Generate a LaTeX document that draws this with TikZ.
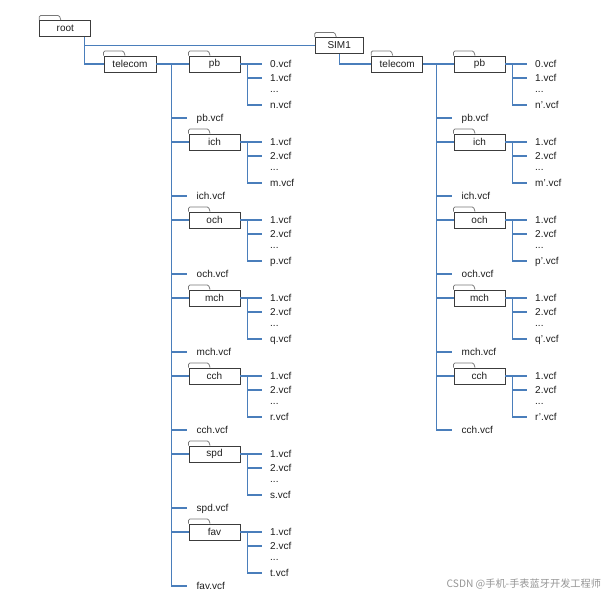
\documentclass[tikz,border=0pt]{standalone}
\usepackage{fontspec}
\setmainfont{Liberation Sans}
\newfontfamily\cjkfont{Noto Sans CJK SC}
\definecolor{lnblue}{RGB}{74,126,187}
\definecolor{boxc}{RGB}{60,60,60}
\definecolor{tabc}{RGB}{120,120,120}
\definecolor{txt}{RGB}{30,30,30}
\definecolor{wmc}{RGB}{150,150,150}
\newcommand{\ftab}[1]{\draw[tabline] (#1.north west) -- ++(0,-4.5) -- ++(20,0) -- ++(1.5,4.5);}
\newcommand{\drawcolumn}[3]{%
\begin{scope}[xshift=#2]
  \coordinate (#1trunk) at (171.5,64);
  \foreach \fo/\fa/\fb/\la [count=\k from 0] in {#3} {
    \pgfmathsetmacro\gy{64+78*\k}
    \node[folder] (#1\fo) at (214.5,\gy) {\fo};
    \ftab{#1\fo}
    \node[file] (#1\fo-a) at (270,\gy) {\fa.vcf};
    \node[file] (#1\fo-b) at (270,\gy+14) {\fb.vcf};
    \node[file] (#1\fo-d) at (270,\gy+24.5) {...};
    \node[file] (#1\fo-z) at (270,\gy+41) {\la.vcf};
    \node[file] (#1\fo-f) at (196.5,\gy+54) {\fo.vcf};
    \coordinate (#1\fo-v) at (247.5,\gy);
    \draw[conn] (#1\fo.east) -- ([xshift=-8pt]#1\fo-a.west);
    \draw[conn] (#1\fo-v) |- ([xshift=-8pt]#1\fo-z.west);
    \draw[conn] (#1\fo-v |- #1\fo-b) -- ([xshift=-8pt]#1\fo-b.west);
    \draw[conn] (#1trunk |- #1\fo) -- (#1\fo.west);
    \draw[conn] (#1trunk |- #1\fo-f) -- ([xshift=-10pt]#1\fo-f.west);
    \coordinate (#1last) at (#1\fo-f.west);
  }
  \draw[conn] (#1trunk) |- ([xshift=-10pt]#1last);
\end{scope}}
\begin{document}
\begin{tikzpicture}[x=1pt,y=-1pt,
  conn/.style={draw=lnblue, line width=1.25pt},
  folder/.style={draw=boxc, fill=white, line width=0.9pt, minimum width=51pt, minimum height=16pt, inner sep=0pt, font=\fontsize{10}{12}\selectfont, text=txt},
  tabline/.style={draw=tabc, line width=0.75pt, rounded corners=1.2pt},
  file/.style={anchor=west, inner sep=0pt, text height=7.2pt, text depth=0pt, font=\fontsize{10}{12}\selectfont, text=txt},
]
\fill[white] (0,0) rectangle (613,600);
\useasboundingbox (0,0) rectangle (613,600);

\node[folder] (root) at (65.3,28.5) {root};
\ftab{root}
\node[folder, minimum width=48pt] (sim) at (339.2,45.5) {SIM1};
\ftab{sim}
\node[folder, minimum width=52pt] (telL) at (130,64) {telecom};
\ftab{telL}
\node[folder] (telR) at (397.2,64) {telecom};
\ftab{telR}

\draw[conn] ([xshift=19pt]root.south) |- (sim.west);
\draw[conn] ([xshift=19pt]root.south) |- (telL.west);
\draw[conn] (sim.south) |- (telR.west);

\drawcolumn{L}{0pt}{pb/0/1/n, ich/1/2/m, och/1/2/p, mch/1/2/q, cch/1/2/r, spd/1/2/s, fav/1/2/t}
\drawcolumn{R}{265pt}{pb/0/1/n', ich/1/2/m', och/1/2/p', mch/1/2/q', cch/1/2/r'}

\draw[conn] (telL.east) -- (Lpb.west);
\draw[conn] (telR.east) -- (Rpb.west);

\node[anchor=west, inner sep=0pt, text=wmc, font=\cjkfont\fontsize{10.2}{12}\selectfont] (wm) at (446.5,584.5) {CSDN @手机-手表蓝牙开发工程师};
\end{tikzpicture}
\end{document}
